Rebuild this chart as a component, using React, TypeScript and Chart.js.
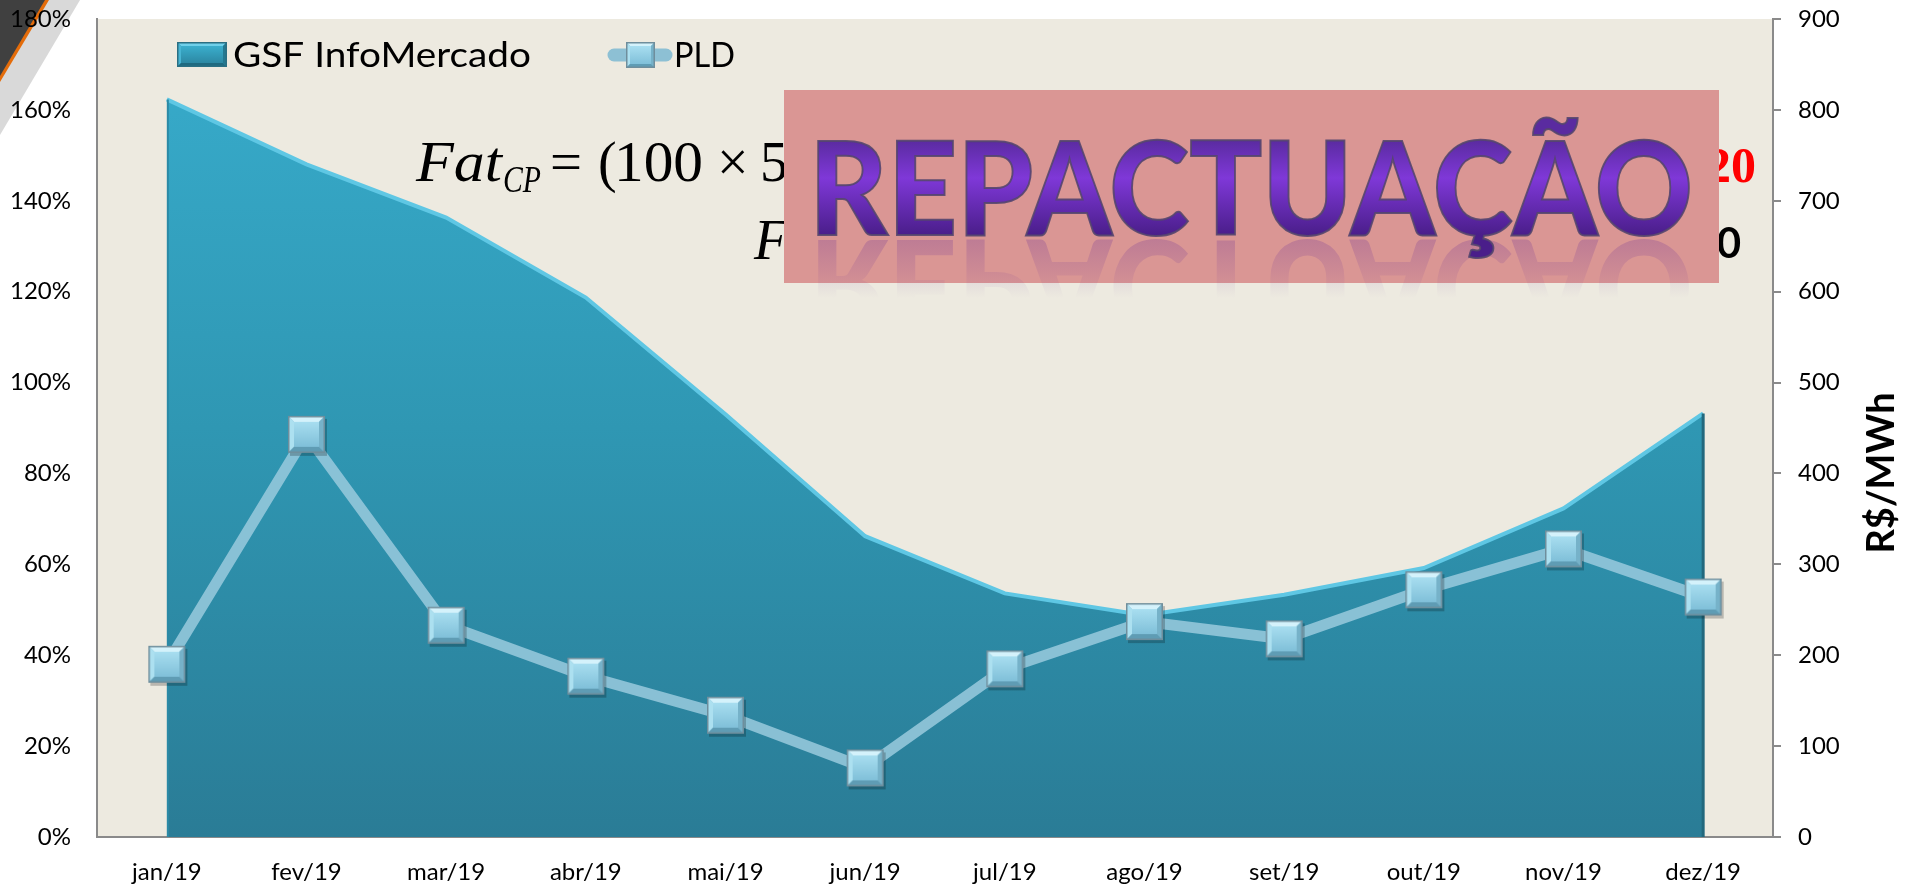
import React, { useEffect, useRef } from 'react';
import { Chart, registerables } from 'chart.js';

Chart.register(...registerables);

const categories = ['jan/19', 'fev/19', 'mar/19', 'abr/19', 'mai/19', 'jun/19', 'jul/19', 'ago/19', 'set/19', 'out/19', 'nov/19', 'dez/19'];
const gsfInfoMercado = [162.3, 148, 136.3, 118.7, 93, 66.2, 53.6, 48.8, 53.3, 59.2, 72.3, 93.2];
const pld = [190, 443, 233, 177, 134, 76, 185, 237, 218, 272, 317, 264];
const leftAxisMax = 180;
const leftAxisStep = 20;
const rightAxisMax = 900;
const rightAxisStep = 100;
const legendLabels = ['GSF InfoMercado', 'PLD'];
const rightAxisTitle = 'R$/MWh';
const stampText = 'REPACTUAÇÃO';

type Pt = [number, number];
function poly(g: CanvasRenderingContext2D, pts: Pt[], color: string) {
  g.beginPath();
  g.moveTo(pts[0][0], pts[0][1]);
  for (let i = 1; i < pts.length; i++) g.lineTo(pts[i][0], pts[i][1]);
  g.closePath();
  g.fillStyle = color;
  g.fill();
}

function drawBevelSquare(g: CanvasRenderingContext2D, x: number, y: number, w: number, h: number, c: { base: string; top: string; left: string; right: string; bottom: string; in1: string; in2: string; edge: string }) {
  const b = Math.max(3, Math.round(Math.min(w, h) * 0.16));
  g.fillStyle = c.base;
  g.fillRect(x, y, w, h);
  poly(g, [[x, y], [x + w, y], [x + w - b, y + b], [x + b, y + b]], c.top);
  poly(g, [[x, y], [x + b, y + b], [x + b, y + h - b], [x, y + h]], c.left);
  poly(g, [[x + w, y], [x + w, y + h], [x + w - b, y + h - b], [x + w - b, y + b]], c.right);
  poly(g, [[x, y + h], [x + b, y + h - b], [x + w - b, y + h - b], [x + w, y + h]], c.bottom);
  const ig = g.createLinearGradient(0, y + b, 0, y + h - b);
  ig.addColorStop(0, c.in1);
  ig.addColorStop(1, c.in2);
  g.fillStyle = ig;
  g.fillRect(x + b, y + b, w - 2 * b, h - 2 * b);
  g.strokeStyle = c.edge;
  g.lineWidth = 1.5;
  g.strokeRect(x + 0.75, y + 0.75, w - 1.5, h - 1.5);
}

const markerColors = { base: '#7fbcd3', top: '#d4f2fb', left: '#ace0f0', right: '#76b2c9', bottom: '#5f9cb4', in1: '#a8def0', in2: '#80c0d9', edge: '#6f8e9c' };
const gsfIconColors = { base: '#2f95b2', top: '#6fd0ea', left: '#48b5d3', right: '#247890', bottom: '#1f6a80', in1: '#3aaecd', in2: '#2c88a3', edge: '#2a6f83' };

function makeMarker(size: number) {
  const pad = 5;
  const c = document.createElement('canvas');
  c.width = size + pad * 2;
  c.height = size + pad * 2;
  const g = c.getContext('2d') as CanvasRenderingContext2D;
  g.fillStyle = 'rgba(0,0,0,0.22)';
  g.fillRect(pad + 2, pad + 3, size, size);
  drawBevelSquare(g, pad, pad, size, size, markerColors);
  return c;
}

function fitText(ctx: CanvasRenderingContext2D, text: string, x: number, y: number, w: number) {
  const m = ctx.measureText(text).width;
  ctx.save();
  ctx.translate(x, y);
  ctx.scale(w / m, 1);
  ctx.fillText(text, 0, 0);
  ctx.restore();
}

const decorPlugin = {
  id: 'decor',
  beforeDraw(chart: any) {
    const { ctx, chartArea: a } = chart;
    ctx.save();
    ctx.fillStyle = '#EDEAE0';
    ctx.fillRect(a.left, a.top, a.right - a.left, a.bottom - a.top);
    poly(ctx, [[0, 0], [80, 0], [0, 135]], '#D9D9D9');
    poly(ctx, [[0, 0], [49, 0], [0, 82]], '#E46C0A');
    poly(ctx, [[0, 0], [45, 0], [0, 76]], '#404040');
    ctx.restore();
  },
  afterDatasetDraw(chart: any, args: any) {
    if (args.index !== 0) return;
    const { ctx } = chart;
    const meta = chart.getDatasetMeta(0);
    const last = meta.data[meta.data.length - 1];
    const first = meta.data[0];
    const bottom = chart.scales.y.getPixelForValue(0);
    ctx.save();
    ctx.strokeStyle = '#22687d';
    ctx.lineWidth = 3;
    ctx.beginPath();
    ctx.moveTo(last.x, last.y);
    ctx.lineTo(last.x, bottom);
    ctx.stroke();
    ctx.strokeStyle = '#2b8aa6';
    ctx.lineWidth = 2;
    ctx.beginPath();
    ctx.moveTo(first.x + 1, first.y);
    ctx.lineTo(first.x + 1, bottom);
    ctx.stroke();
    ctx.restore();
  },
  afterDraw(chart: any) {
    const { ctx } = chart;
    ctx.save();
    // legend
    drawBevelSquare(ctx, 177, 42, 50, 25, gsfIconColors);
    ctx.fillStyle = '#000';
    ctx.textBaseline = 'alphabetic';
    ctx.textAlign = 'left';
    ctx.font = '34px Lato';
    fitText(ctx, legendLabels[0], 233, 67, 298);
    ctx.strokeStyle = '#8DC0D4';
    ctx.lineWidth = 13;
    ctx.lineCap = 'round';
    ctx.beginPath();
    ctx.moveTo(614, 55);
    ctx.lineTo(666, 55);
    ctx.stroke();
    drawBevelSquare(ctx, 626, 42, 29, 26, markerColors);
    ctx.fillStyle = '#000';
    fitText(ctx, legendLabels[1], 674, 67, 61);

    // formula line 1
    ctx.fillStyle = '#000';
    ctx.font = 'italic 56px "Liberation Serif"';
    fitText(ctx, 'Fat', 416, 181, 86);
    ctx.font = 'italic 38px "Liberation Serif"';
    fitText(ctx, 'CP', 503, 192, 38);
    ctx.font = '56px "Liberation Serif"';
    fitText(ctx, '=', 550, 181, 32);
    ctx.fillText('(', 598, 181);
    fitText(ctx, '100', 614, 181, 89);
    ctx.fillText('×', 717, 181);
    ctx.fillText('5', 760, 181);
    // formula line 2
    ctx.font = 'italic 56px "Liberation Serif"';
    ctx.fillText('F', 754, 259);
    // red and black fragments behind stamp
    ctx.fillStyle = '#FF0000';
    ctx.font = 'bold 50px "Liberation Serif"';
    ctx.textAlign = 'right';
    ctx.fillText('2020', 1756, 182);
    ctx.fillStyle = '#000';
    ctx.font = 'bold 42px Lato';
    ctx.fillText('0', 1741, 258);
    ctx.textAlign = 'left';

    // pink box
    ctx.fillStyle = '#DA9694';
    ctx.fillRect(784, 90, 935, 193);

    // stamp text
    ctx.font = '900 130px Lato';
    const m = ctx.measureText(stampText).width;
    const sx = 884 / m;
    // reflection
    ctx.save();
    ctx.beginPath();
    ctx.rect(784, 238, 935, 60);
    ctx.clip();
    ctx.translate(809, 240);
    ctx.scale(sx, -1);
    const rg = ctx.createLinearGradient(0, 0, 0, -58);
    rg.addColorStop(0, 'rgba(110,50,150,0.26)');
    rg.addColorStop(1, 'rgba(110,50,150,0)');
    ctx.fillStyle = rg;
    ctx.fillText(stampText, 0, 0);
    ctx.restore();
    // main text
    ctx.save();
    ctx.translate(809, 235);
    ctx.scale(sx, 1);
    const tg = ctx.createLinearGradient(0, -95, 0, 0);
    tg.addColorStop(0, '#5a2ba0');
    tg.addColorStop(0.4, '#7f38d8');
    tg.addColorStop(1, '#4a1e8a');
    ctx.fillStyle = tg;
    ctx.fillText(stampText, 0, 0);
    ctx.strokeStyle = 'rgba(85,70,110,0.9)';
    ctx.lineWidth = 2;
    ctx.strokeText(stampText, 0, 0);
    ctx.restore();

    // right axis title
    ctx.save();
    ctx.translate(1882, 473);
    ctx.rotate(-Math.PI / 2);
    ctx.fillStyle = '#000';
    ctx.font = 'bold 38px Lato';
    ctx.textAlign = 'center';
    ctx.textBaseline = 'middle';
    ctx.fillText(rightAxisTitle, 0, 0);
    ctx.restore();
    ctx.restore();
  },
};

export default function App() {
  const ref = useRef<HTMLCanvasElement | null>(null);
  useEffect(() => {
    document.body.style.margin = '0';
    const canvas = ref.current as HTMLCanvasElement;
    const marker = makeMarker(37);
    const fixV = (w: number) => (s: any) => {
      s.width = w;
      s.paddingTop = 0;
      s.paddingBottom = 0;
    };
    const chart = new Chart(canvas, {
      type: 'line',
      data: {
        labels: categories,
        datasets: [
          {
            label: legendLabels[0],
            data: gsfInfoMercado,
            yAxisID: 'y',
            order: 1,
            fill: 'origin',
            tension: 0,
            borderColor: '#5fc7e4',
            borderWidth: 4,
            pointRadius: 0,
            backgroundColor: (context: any) => {
              const c = context.chart;
              const a = c.chartArea;
              if (!a) return '#2f95b2';
              const g = c.ctx.createLinearGradient(0, a.top, 0, a.bottom);
              g.addColorStop(0, '#38adcd');
              g.addColorStop(0.5, '#2f97b3');
              g.addColorStop(1, '#2a7c96');
              return g;
            },
          },
          {
            label: legendLabels[1],
            data: pld,
            yAxisID: 'y1',
            order: 0,
            fill: false,
            tension: 0,
            borderColor: 'rgba(150,200,220,0.88)',
            borderWidth: 11,
            pointStyle: marker as any,
            pointRadius: 20,
            clip: false as any,
          },
        ],
      },
      options: {
        animation: false,
        responsive: false,
        devicePixelRatio: 1,
        layout: { autoPadding: false, padding: { top: 19, left: 0, right: 0, bottom: 0 } },
        plugins: { legend: { display: false }, tooltip: { enabled: false } },
        scales: {
          x: {
            type: 'category',
            offset: true,
            grid: { display: false, drawTicks: false },
            border: { display: true, color: '#8a8a8a', width: 2 },
            ticks: { color: '#000', font: { family: 'Lato', size: 24 }, padding: 21, maxRotation: 0 },
            afterFit: (s: any) => {
              s.height = 50;
              s.paddingLeft = 0;
              s.paddingRight = 0;
            },
          },
          y: {
            position: 'left',
            min: 0,
            max: leftAxisMax,
            grid: { display: false, drawTicks: false },
            border: { display: true, color: '#8a8a8a', width: 2 },
            ticks: { stepSize: leftAxisStep, color: '#000', font: { family: 'Lato', size: 24 }, padding: 26, callback: (v: any) => v + '%' },
            afterFit: fixV(97),
          },
          y1: {
            position: 'right',
            min: 0,
            max: rightAxisMax,
            grid: { display: true, drawOnChartArea: false, drawTicks: true, tickLength: 8, tickColor: '#8a8a8a', lineWidth: 2 },
            border: { display: true, color: '#8a8a8a', width: 2 },
            ticks: { stepSize: rightAxisStep, color: '#000', font: { family: 'Lato', size: 24 }, padding: 17 },
            afterFit: fixV(134),
          },
        },
      },
      plugins: [decorPlugin],
    });
    return () => chart.destroy();
  }, []);
  return (
    <div style={{ position: 'fixed', left: 0, top: 0, width: 1907, height: 887, background: '#fff' }}>
      <canvas ref={ref} width={1907} height={887} />
    </div>
  );
}
